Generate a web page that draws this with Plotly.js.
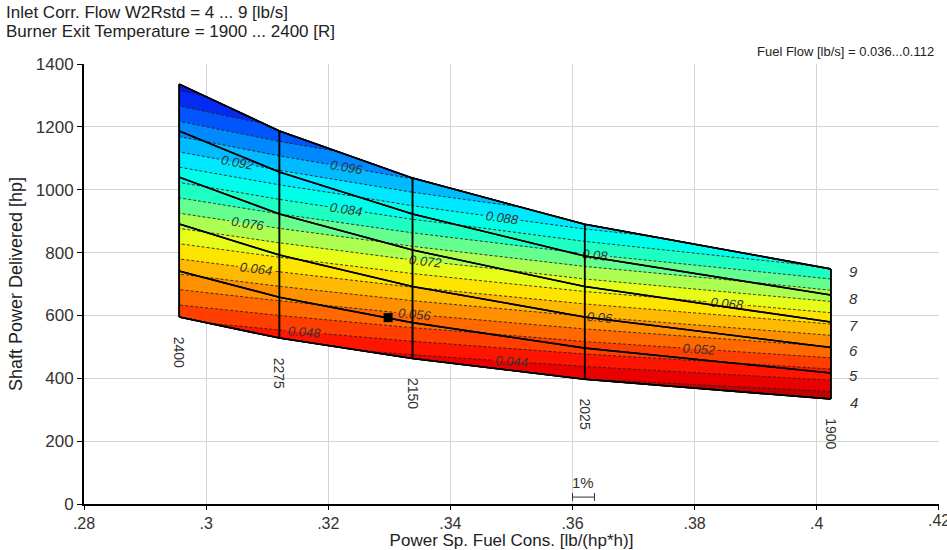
<!DOCTYPE html>
<html>
<head>
<meta charset="utf-8">
<script src="https://cdn.plot.ly/plotly-3.0.1.min.js"></script>
<style>html,body{margin:0;padding:0;background:#fff;}#chart{width:947px;height:550px;}</style>
</head>
<body>
<div id="chart"></div>
<script>
// Carpet parameters
const flows = [4, 5, 6, 7, 8, 9];                 // Inlet Corr. Flow W2Rstd [lb/s]
const temps = [1900, 2025, 2150, 2275, 2400];     // Burner Exit Temperature [R]
// Power specific fuel consumption per temperature line [lb/(hp*h)]
const sfc = [0.4023, 0.3620, 0.3338, 0.3120, 0.2956];
// Shaft power delivered [hp] per temperature, for flows 4..9
const power1900 = [334, 417, 498, 579, 665, 748];
const power2025 = [397, 496, 595, 692, 789, 890];
const power2150 = [463, 577, 692, 808, 923, 1037];
const power2275 = [528, 658, 792, 923, 1056, 1187];
const power2400 = [595, 741, 891, 1040, 1187, 1336];
// Fuel flow [lb/s] at each node, for flows 4..9
const fuel1900 = [0.0373, 0.0466, 0.0557, 0.0647, 0.0743, 0.0836];
const fuel2025 = [0.0399, 0.0499, 0.0598, 0.0696, 0.0793, 0.0895];
const fuel2150 = [0.0429, 0.0535, 0.0642, 0.0749, 0.0856, 0.0962];
const fuel2275 = [0.0458, 0.0570, 0.0686, 0.0800, 0.0915, 0.1029];
const fuel2400 = [0.0489, 0.0608, 0.0732, 0.0854, 0.0975, 0.1097];
// Operating point
const opSfc = [0.3298];
const opPower = [593];
// Axis ticks
const xTickVals = [0.28, 0.30, 0.32, 0.34, 0.36, 0.38, 0.40, 0.42];
const xTickText = ['.28', '.3', '.32', '.34', '.36', '.38', '.4', '.42'];
const yTickVals = [0, 200, 400, 600, 800, 1000, 1200, 1400];
// Band colours (lowest band first)
const bandColors = [
  'rgb(170,0,0)', 'rgb(215,0,0)', 'rgb(255,0,0)', 'rgb(255,40,0)', 'rgb(255,85,0)',
  'rgb(255,125,0)', 'rgb(255,165,0)', 'rgb(255,205,0)', 'rgb(255,250,0)', 'rgb(205,255,50)',
  'rgb(140,255,110)', 'rgb(60,255,175)', 'rgb(0,255,215)', 'rgb(0,255,255)', 'rgb(0,210,255)',
  'rgb(0,165,255)', 'rgb(0,110,255)', 'rgb(0,60,252)', 'rgb(10,25,232)'];

const powers = [power1900, power2025, power2150, power2275, power2400];
const fuels = [fuel1900, fuel2025, fuel2150, fuel2275, fuel2400];
const xGrid = temps.map((t, j) => flows.map(() => sfc[j]));

// Colour scale: band k is coloured at normalized position (k + 0.5) / (n + 1)
const nBands = bandColors.length;
const colorscale = [[0, 'rgb(150,0,0)']];
bandColors.forEach((c, k) => colorscale.push([(k + 0.5) / (nBands + 1), c]));
colorscale.push([1, 'rgb(10,15,220)']);

const FONT = 'Liberation Sans, Arial, sans-serif';

const data = [];
data.push({
  type: 'contourcarpet', carpet: 'c1',
  a: flows, b: temps, z: fuels,
  autocontour: false,
  contours: {start: 0.036, end: 0.112, size: 0.004, coloring: 'fill', showlines: true,
             showlabels: true, labelformat: '~g',
             labelfont: {family: FONT, size: 13, color: '#333', style: 'italic'}},
  line: {color: '#222', width: 0.9, dash: '3px,2px', smoothing: 0},
  colorscale: colorscale,
  showscale: false, hoverinfo: 'skip'
});
data.push({
  type: 'carpet', carpet: 'c1',
  a: flows, b: temps, x: xGrid, y: powers,
  aaxis: {tickmode: 'array', tickvals: flows, showticklabels: 'none', smoothing: 0,
          gridcolor: 'black', gridwidth: 1.5, startlinecolor: 'black', endlinecolor: 'black',
          startlinewidth: 1.5, endlinewidth: 1.5, minorgridcount: 0},
  baxis: {tickmode: 'array', tickvals: temps, showticklabels: 'none', smoothing: 0,
          gridcolor: 'black', gridwidth: 1.5, startlinecolor: 'black', endlinecolor: 'black',
          startlinewidth: 1.5, endlinewidth: 1.5, minorgridcount: 0}
});
// Flow lines
flows.forEach((f, i) => {
  data.push({type: 'scatter', mode: 'lines', x: sfc, y: powers.map(p => p[i]),
    line: {color: 'black', width: 1.6}, hoverinfo: 'skip', showlegend: false});
});
// Temperature lines
temps.forEach((t, j) => {
  data.push({type: 'scatter', mode: 'lines', x: [sfc[j], sfc[j]], y: [powers[j][0], powers[j][5]],
    line: {color: 'black', width: 1.6}, hoverinfo: 'skip', showlegend: false});
});
data.push({type: 'scatter', mode: 'markers', x: opSfc, y: opPower,
  marker: {symbol: 'square', size: 9, color: 'black'}, hoverinfo: 'skip', showlegend: false});

const annotations = [];
flows.forEach((f, i) => {
  annotations.push({x: sfc[0], y: power1900[i], xref: 'x', yref: 'y', text: String(f),
    showarrow: false, xanchor: 'center', xshift: 23, yshift: -3,
    font: {family: FONT, size: 15, color: '#333', style: 'italic'}});
});
temps.forEach((t, j) => {
  annotations.push({x: sfc[j], y: powers[j][0], xref: 'x', yref: 'y', text: String(t),
    showarrow: false, textangle: 90, yshift: -35,
    font: {family: FONT, size: 14, color: '#333'}});
});
annotations.push({x: 1, y: 1, xref: 'paper', yref: 'paper', xanchor: 'right', yanchor: 'bottom',
  xshift: -3, yshift: 3, showarrow: false, text: 'Fuel Flow [lb/s] = 0.036...0.112',
  font: {family: FONT, size: 13, color: '#222'}});
annotations.push({x: 0.3618, y: 68, xref: 'x', yref: 'y', showarrow: false, text: '1%',
  font: {family: FONT, size: 15, color: '#333'}});
// Last x tick label, partly cut at the page edge as in the original
annotations.push({x: xTickVals[xTickVals.length - 1], y: 0, xref: 'x', yref: 'y',
  xanchor: 'center', yanchor: 'top', yshift: -6, showarrow: false,
  text: xTickText[xTickText.length - 1], font: {family: FONT, size: 16, color: '#333'}});
// Header lines
annotations.push({x: 0, y: 1, xref: 'paper', yref: 'paper', xanchor: 'left', yanchor: 'middle',
  xshift: -80, yshift: 52, showarrow: false, text: 'Inlet Corr. Flow W2Rstd = 4 ... 9 [lb/s]',
  font: {family: FONT, size: 17, color: '#222'}});
annotations.push({x: 0, y: 1, xref: 'paper', yref: 'paper', xanchor: 'left', yanchor: 'middle',
  xshift: -80, yshift: 33, showarrow: false, text: 'Burner Exit Temperature = 1900 ... 2400 [R]',
  font: {family: FONT, size: 17, color: '#222'}});

const layout = {
  width: 947, height: 550,
  margin: {l: 84, r: 8, t: 64, b: 46},
  paper_bgcolor: 'white', plot_bgcolor: 'white',
  showlegend: false,
  font: {family: FONT, size: 14, color: '#222'},
  xaxis: {range: [0.28, 0.42002], tickmode: 'array', tickvals: xTickVals, ticktext: xTickText,
          showgrid: true, gridcolor: '#d4d4d4', zeroline: false, showline: true, linecolor: 'black',
          linewidth: 2, ticks: 'outside', ticklen: 4, tickcolor: 'black',
          tickfont: {family: FONT, size: 16, color: '#333'},
          title: {text: 'Power Sp. Fuel Cons. [lb/(hp*h)]', standoff: 0,
                  font: {family: FONT, size: 17, color: '#222'}}},
  yaxis: {range: [0, 1400], tickmode: 'array', tickvals: yTickVals,
          showgrid: true, gridcolor: '#d4d4d4', zeroline: false, showline: true, linecolor: 'black',
          linewidth: 2, ticks: 'outside', ticklen: 5, tickcolor: 'black',
          tickfont: {family: FONT, size: 17, color: '#333'},
          title: {text: 'Shaft Power Delivered [hp]', standoff: 8,
                  font: {family: FONT, size: 18, color: '#222'}}},
  shapes: [
    {type: 'line', xref: 'x', yref: 'y', x0: 0.36, x1: 0.3636, y0: 22, y1: 22, line: {color: '#333', width: 1}},
    {type: 'line', xref: 'x', yref: 'y', x0: 0.36, x1: 0.36, y0: 10, y1: 35, line: {color: '#333', width: 1}},
    {type: 'line', xref: 'x', yref: 'y', x0: 0.3636, x1: 0.3636, y0: 10, y1: 35, line: {color: '#333', width: 1}}
  ],
  annotations: annotations
};

Plotly.newPlot('chart', data, layout, {displayModeBar: false, staticPlot: true});
</script>
</body>
</html>
